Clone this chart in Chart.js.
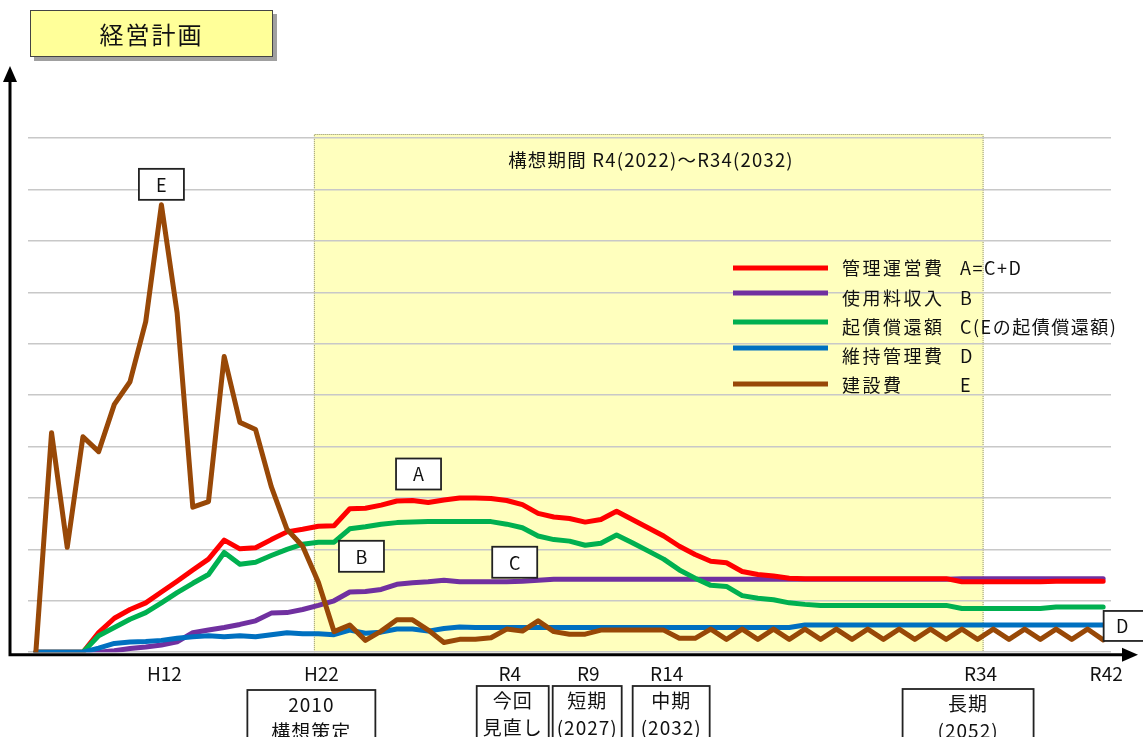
<!DOCTYPE html>
<html lang="ja">
<head>
<meta charset="utf-8">
<title>経営計画</title>
<script src="https://cdn.jsdelivr.net/npm/chart.js@4.4.1/dist/chart.umd.min.js"></script>
<style>
  html, body { margin: 0; padding: 0; background: #fff; }
  #wrap { position: relative; width: 1143px; height: 737px; overflow: hidden; }
  #keieiChart { position: absolute; left: 0; top: 0; }
  .titre {
    position: absolute; left: 30px; top: 10px; width: 241px; height: 45px;
    background: #ffff99; border: 1.5px solid #444; box-shadow: 4px 4px 0 #a0a0a0;
    font: 24px 'Noto Sans CJK JP', sans-serif; letter-spacing: 2px;
    display: flex; align-items: center; justify-content: center; color: #111;
  }
</style>
</head>
<body>
<div id="wrap">
  <canvas id="keieiChart" width="1143" height="737"></canvas>
  <div class="titre">経営計画</div>
</div>
<script>
const FONT = "'Noto Sans CJK JP', 'Noto Sans', sans-serif";

// 年度 H4(1992) 〜 R42(2060)
const years = [];
for (let y = 1992; y <= 2060; y++) years.push(String(y));

// 軸に出す年度と和暦の表記
const tickYears = ['2000', '2010', '2022', '2027', '2032', '2052', '2060'];
const tickNames = ['H12', 'H22', 'R4', 'R9', 'R14', 'R34', 'R42'];

// 凡例
const seriesNames = ['管理運営費', '使用料収入', '起債償還額', '維持管理費', '建設費'];
const seriesKeys = ['A=C+D', 'B', 'C(Eの起債償還額)', 'D', 'E'];
const seriesColors = ['#ff0000', '#7030a0', '#00b050', '#0070c0', '#984807'];

// A 管理運営費
const kanriUnei = [
  0, 0, 0, 0, 0.38, 0.66, 0.83, 0.96, 1.17, 1.38,
  1.60, 1.81, 2.18, 2.01, 2.03, 2.19, 2.34, 2.39, 2.45, 2.46,
  2.79, 2.80, 2.86, 2.94, 2.95, 2.91, 2.96, 3.00, 3.00, 2.99,
  2.95, 2.87, 2.70, 2.63, 2.60, 2.53, 2.58, 2.74, 2.58, 2.42,
  2.26, 2.06, 1.90, 1.77, 1.74, 1.57, 1.51, 1.48, 1.44, 1.43,
  1.43, 1.43, 1.43, 1.43, 1.43, 1.43, 1.43, 1.43, 1.43, 1.37,
  1.37, 1.37, 1.37, 1.37, 1.37, 1.38, 1.38, 1.38, 1.38
];
// B 使用料収入
const shiyoryo = [
  0, 0, 0, 0, 0, 0.03, 0.07, 0.10, 0.14, 0.20,
  0.38, 0.43, 0.48, 0.54, 0.61, 0.76, 0.77, 0.83, 0.91, 1.00,
  1.17, 1.18, 1.22, 1.32, 1.35, 1.37, 1.40, 1.37, 1.37, 1.37,
  1.37, 1.38, 1.40, 1.42, 1.42, 1.42, 1.42, 1.42, 1.42, 1.42,
  1.42, 1.42, 1.42, 1.42, 1.42, 1.42, 1.42, 1.42, 1.42, 1.42,
  1.42, 1.42, 1.42, 1.42, 1.42, 1.42, 1.42, 1.42, 1.42, 1.43,
  1.43, 1.43, 1.43, 1.43, 1.43, 1.43, 1.43, 1.43, 1.43
];
// C 起債償還額
const kisaiShokan = [
  0, 0, 0, 0, 0.32, 0.48, 0.64, 0.77, 0.96, 1.16,
  1.34, 1.51, 1.94, 1.71, 1.75, 1.88, 2.00, 2.10, 2.14, 2.14,
  2.40, 2.44, 2.49, 2.52, 2.53, 2.54, 2.54, 2.54, 2.54, 2.54,
  2.49, 2.42, 2.26, 2.19, 2.16, 2.08, 2.12, 2.28, 2.13, 1.97,
  1.81, 1.60, 1.44, 1.30, 1.28, 1.10, 1.05, 1.02, 0.96, 0.93,
  0.91, 0.91, 0.91, 0.91, 0.91, 0.91, 0.91, 0.91, 0.91, 0.85,
  0.85, 0.85, 0.85, 0.85, 0.85, 0.88, 0.88, 0.88, 0.88
];
// D 維持管理費
const ijiKanri = [
  0, 0, 0, 0, 0.08, 0.17, 0.20, 0.21, 0.23, 0.27,
  0.30, 0.32, 0.30, 0.32, 0.30, 0.34, 0.38, 0.36, 0.36, 0.34,
  0.43, 0.37, 0.39, 0.45, 0.45, 0.41, 0.46, 0.49, 0.48, 0.48,
  0.48, 0.48, 0.48, 0.48, 0.48, 0.48, 0.48, 0.48, 0.48, 0.48,
  0.48, 0.48, 0.48, 0.48, 0.48, 0.48, 0.48, 0.48, 0.48, 0.53,
  0.53, 0.53, 0.53, 0.53, 0.53, 0.53, 0.53, 0.53, 0.53, 0.53,
  0.53, 0.53, 0.53, 0.53, 0.53, 0.53, 0.53, 0.53, 0.53
];
// E 建設費
const kensetsu = [
  0, 4.27, 2.04, 4.19, 3.90, 4.82, 5.26, 6.43, 8.70, 6.60,
  2.82, 2.93, 5.75, 4.47, 4.33, 3.22, 2.39, 2.06, 1.36, 0.40,
  0.53, 0.23, 0.41, 0.63, 0.63, 0.43, 0.19, 0.25, 0.25, 0.28,
  0.45, 0.41, 0.61, 0.40, 0.35, 0.35, 0.43, 0.43, 0.43, 0.43,
  0.43, 0.27, 0.27, 0.45, 0.25, 0.45, 0.25, 0.45, 0.25, 0.45,
  0.25, 0.45, 0.25, 0.45, 0.25, 0.45, 0.25, 0.45, 0.25, 0.45,
  0.25, 0.45, 0.25, 0.45, 0.25, 0.45, 0.25, 0.45, 0.24
];

const seriesData = [kanriUnei, shiyoryo, kisaiShokan, ijiKanri, kensetsu];
// 重なり順 (小さいほど手前)
const drawOrder = [3, 4, 2, 1, 0];

// 期間の注記
const planStart = '2010';
const planEnd = '2052';
const planTitle = '構想期間 R4(2022)～R34(2032)';
const stageNotes = [
  { year: '2010', lines: ['2010', '構想策定'] },
  { year: '2022', lines: ['今回', '見直し'] },
  { year: '2027', lines: ['短期', '(2027)'] },
  { year: '2032', lines: ['中期', '(2032)'] },
  { year: '2052', lines: ['長期', '(2052)'] }
];

function textAt(ctx, txt, x, y, size, align, spacing) {
  ctx.font = size + 'px ' + FONT;
  ctx.textAlign = align || 'left';
  ctx.textBaseline = 'middle';
  ctx.letterSpacing = (spacing || 0) + 'px';
  ctx.fillStyle = '#111';
  ctx.fillText(txt, x, y);
  ctx.letterSpacing = '0px';
}

function box(ctx, left, top, w, h) {
  ctx.fillStyle = '#fff';
  ctx.fillRect(left, top, w, h);
  ctx.strokeStyle = '#222';
  ctx.lineWidth = 1.8;
  ctx.strokeRect(left, top, w, h);
}

function letterBox(ctx, cx, top, letter) {
  box(ctx, cx - 22.5, top, 45, 31);
  textAt(ctx, letter, cx, top + 16, 18, 'center');
}

const overlay = {
  id: 'overlay',
  beforeDraw(chart) {
    const { ctx, chartArea: a, scales: { x } } = chart;
    const left = x.getPixelForValue(years.indexOf(planStart)) - 4.5;
    const right = x.getPixelForValue(years.indexOf(planEnd)) + 6;
    const top = a.top - 4;
    ctx.save();
    ctx.fillStyle = '#ffffbe';
    ctx.fillRect(left, top, right - left, a.bottom - top);
    ctx.strokeStyle = '#8a8a70';
    ctx.lineWidth = 1;
    ctx.setLineDash([1, 1]);
    ctx.beginPath();
    ctx.moveTo(left + 0.5, a.bottom);
    ctx.lineTo(left + 0.5, top + 0.5);
    ctx.lineTo(right - 0.5, top + 0.5);
    ctx.lineTo(right - 0.5, a.bottom);
    ctx.stroke();
    ctx.restore();
  },
  afterDraw(chart) {
    const { ctx, chartArea: a, scales: { x, y } } = chart;
    ctx.save();

    // 構想期間の見出し
    const left = x.getPixelForValue(years.indexOf(planStart));
    const right = x.getPixelForValue(years.indexOf(planEnd));
    textAt(ctx, planTitle, (left + right) / 2 + 3, a.top + 22, 18.5, 'center', 1.2);

    // 軸の矢印
    ctx.strokeStyle = '#000';
    ctx.fillStyle = '#000';
    ctx.lineWidth = 3;
    const ax = a.left - 18, ay = a.bottom + 2.5;
    ctx.beginPath();
    ctx.moveTo(ax, ay + 1);
    ctx.lineTo(ax, a.top - 58);
    ctx.moveTo(ax - 1.5, ay);
    ctx.lineTo(a.right + 14, ay);
    ctx.stroke();
    ctx.beginPath();
    ctx.moveTo(ax, a.top - 72);
    ctx.lineTo(ax - 7, a.top - 56);
    ctx.lineTo(ax + 7, a.top - 56);
    ctx.closePath();
    ctx.fill();
    ctx.beginPath();
    ctx.moveTo(a.right + 27, ay);
    ctx.lineTo(a.right + 11, ay - 7);
    ctx.lineTo(a.right + 11, ay + 7);
    ctx.closePath();
    ctx.fill();

    // 凡例
    const lineY = [130, 155, 184, 210, 246];
    const textY = [130, 160, 189, 218, 247];
    const lx = a.left + 705;
    seriesNames.forEach((name, k) => {
      ctx.strokeStyle = seriesColors[k];
      ctx.lineWidth = 5;
      ctx.beginPath();
      ctx.moveTo(lx, a.top + lineY[k]);
      ctx.lineTo(lx + 95, a.top + lineY[k]);
      ctx.stroke();
      textAt(ctx, name, lx + 109, a.top + textY[k], 18, 'left', 2.5);
      textAt(ctx, seriesKeys[k], lx + 227, a.top + textY[k], 18, 'left', 1.5);
    });

    // 系列の記号
    const px = i => x.getPixelForValue(i);
    const last = years.length - 1;
    letterBox(ctx, px(8), y.getPixelForValue(kensetsu[8]) - 36, 'E');
    letterBox(ctx, px(24) + 6, y.getPixelForValue(kanriUnei[24]) - 42, 'A');
    letterBox(ctx, px(21) - 4, y.getPixelForValue(kisaiShokan[20]) + 12, 'B');
    letterBox(ctx, px(30) + 8, y.getPixelForValue(shiyoryo[30]) - 35, 'C');
    const dy = y.getPixelForValue(ijiKanri[last]);
    box(ctx, px(last) + 0.5, dy - 14, 46, 30);
    textAt(ctx, 'D', px(last) + 19, dy + 1, 18, 'center');

    // 計画段階の注記
    const noteLayout = [
      { dx: -7, w: 128, top: 690 },
      { dx: 6, w: 72, top: 686 },
      { dx: 2, w: 69, top: 686 },
      { dx: 7.5, w: 77, top: 686 },
      { dx: -9.5, w: 131, top: 689 }
    ];
    stageNotes.forEach((n, k) => {
      const L = noteLayout[k];
      const cx = px(years.indexOf(n.year)) + L.dx;
      box(ctx, cx - L.w / 2, L.top, L.w, 80);
      n.lines.forEach((t, j) => textAt(ctx, t, cx, L.top + 15 + j * 27, 19, 'center', 1));
    });
    ctx.restore();
  }
};

new Chart(document.getElementById('keieiChart'), {
  type: 'line',
  data: {
    labels: years,
    datasets: seriesNames.map((name, k) => ({
      label: name + ' ' + seriesKeys[k],
      data: seriesData[k],
      borderColor: seriesColors[k],
      backgroundColor: seriesColors[k],
      order: drawOrder[k]
    }))
  },
  options: {
    responsive: false,
    animation: false,
    events: [],
    layout: { padding: { left: 28, right: 32, top: 138, bottom: 50 } },
    plugins: { legend: { display: false }, tooltip: { enabled: false } },
    elements: {
      point: { radius: 0 },
      line: { borderWidth: 5, tension: 0, borderJoinStyle: 'round', borderCapStyle: 'round' }
    },
    scales: {
      x: {
        offset: true,
        grid: { display: false },
        border: { display: false },
        ticks: {
          autoSkip: false,
          maxRotation: 0,
          padding: 2,
          labelOffset: 3,
          color: '#111',
          font: { family: FONT, size: 19 },
          callback(v, i) {
            const k = tickYears.indexOf(years[i]);
            return k >= 0 ? tickNames[k] : '';
          }
        }
      },
      y: {
        min: 0,
        max: 10,
        ticks: { display: false, stepSize: 1 },
        border: { display: false },
        grid: { color: '#c8c8c8', lineWidth: 1.5, drawTicks: false }
      }
    }
  },
  plugins: [overlay]
});
</script>
</body>
</html>
